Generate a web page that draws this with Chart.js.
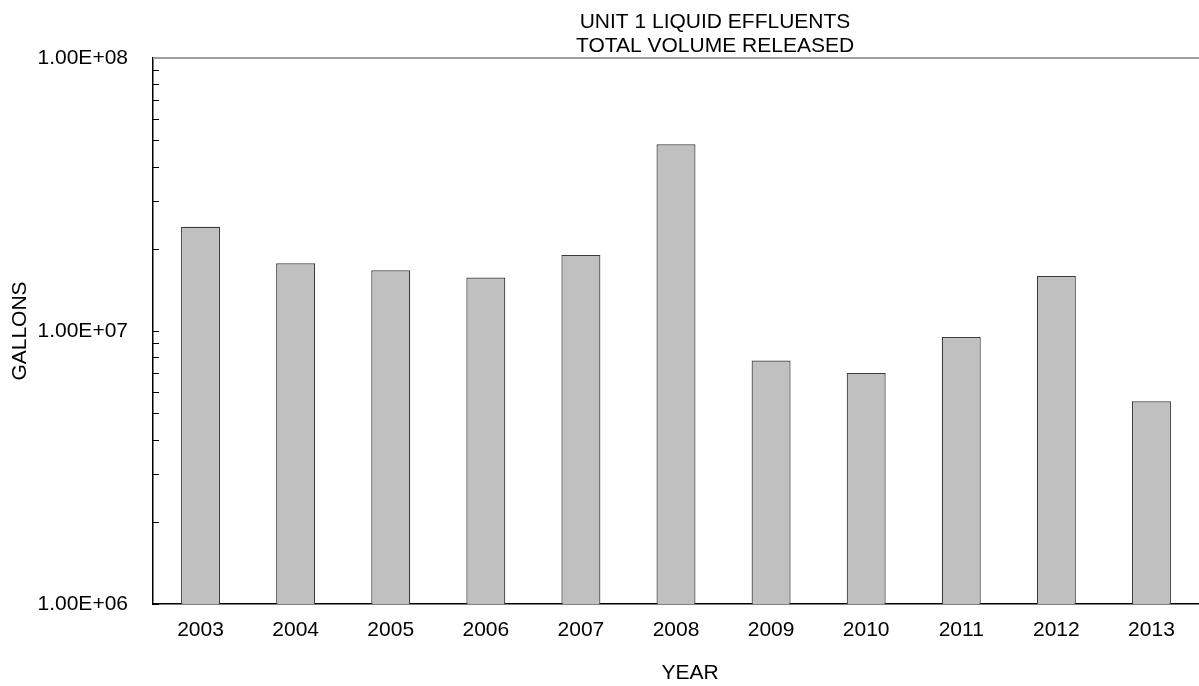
<!DOCTYPE html>
<html>
<head>
<meta charset="utf-8">
<script src="https://cdn.jsdelivr.net/npm/chart.js@4.4.1/dist/chart.umd.min.js"></script>
<style>
    html, body { margin: 0; padding: 0; background: #fff; }
    #wrap { width: 1199px; height: 686px; }
</style>
</head>
<body>
<div id="wrap"><canvas id="volumeChart"></canvas></div>
<script>
// values
const years = ['2003', '2004', '2005', '2006', '2007', '2008', '2009', '2010', '2011', '2012', '2013'];
const gallons = [2.41e7, 1.77e7, 1.67e7, 1.57e7, 1.90e7, 4.83e7, 7.79e6, 7.02e6, 9.51e6, 1.59e7, 5.53e6];
const yTickValues = [1e6, 1e7, 1e8];
const titleLines = ['UNIT 1 LIQUID EFFLUENTS', 'TOTAL VOLUME RELEASED'];
const xTitle = 'YEAR';
const yTitle = 'GALLONS';

const FONT = '"Liberation Sans", Arial, Helvetica, sans-serif';

function sciLabel(v) {
    const exp = Math.round(Math.log10(v));
    const mant = (v / Math.pow(10, exp)).toFixed(2);
    const sign = exp < 0 ? '-' : '+';
    return mant + 'E' + sign + String(Math.abs(exp)).padStart(2, '0');
}

// frame top line, inward log ticks, title and x title
const decorPlugin = {
    id: 'decor',
    afterDraw(chart) {
        const { ctx, chartArea: area, scales: { y } } = chart;
        ctx.save();

        ctx.strokeStyle = '#a0a0a0';
        ctx.lineWidth = 2;
        ctx.beginPath();
        ctx.moveTo(area.left, area.top);
        ctx.lineTo(area.right, area.top);
        ctx.stroke();

        ctx.strokeStyle = '#000';
        ctx.lineWidth = 1;
        const lo = Math.log10(y.min), hi = Math.log10(y.max);
        ctx.beginPath();
        for (let e = lo; e < hi; e++) {
            for (let m = 1; m < 10; m++) {
                const py = Math.round(y.getPixelForValue(m * Math.pow(10, e))) + 0.5;
                ctx.moveTo(area.left, py);
                ctx.lineTo(area.left + 6, py);
            }
        }
        ctx.stroke();

        ctx.fillStyle = '#000';
        ctx.font = '21px ' + FONT;
        ctx.textAlign = 'center';
        ctx.textBaseline = 'alphabetic';
        const cx = (area.left + area.right) / 2;
        titleLines.forEach((t, i) => ctx.fillText(t, cx + 39, 28 + i * 24));
        ctx.fillText(xTitle, cx + 14, chart.height - 7);
        ctx.restore();
    }
};

const volumeChart = new Chart(document.getElementById('volumeChart'), {
    type: 'bar',
    data: {
        labels: years,
        datasets: [{
            data: gallons,
            backgroundColor: '#c0c0c0',
            borderColor: '#3a3a3a',
            borderWidth: 1.2,
            barPercentage: 0.41,
            categoryPercentage: 1.0
        }]
    },
    options: {
        responsive: true,
        maintainAspectRatio: false,
        animation: false,
        layout: { padding: { top: 58, right: 0, bottom: 0, left: 0 } },
        plugins: {
            legend: { display: false },
            title: { display: false },
            tooltip: { enabled: false }
        },
        scales: {
            x: {
                grid: { drawOnChartArea: false, drawTicks: false },
                border: { display: true, color: '#000', width: 1.5 },
                ticks: {
                    color: '#000',
                    font: { family: FONT, size: 21 },
                    padding: 14,
                    maxRotation: 0
                },
                afterFit: (scale) => { scale.height = 82; }
            },
            y: {
                type: 'logarithmic',
                min: 1e6,
                max: 1e8,
                grid: { drawOnChartArea: false, drawTicks: false },
                border: { display: true, color: '#000', width: 1.5 },
                afterBuildTicks: (scale) => {
                    scale.ticks = yTickValues.map(v => ({ value: v }));
                },
                ticks: {
                    color: '#000',
                    font: { family: FONT, size: 21 },
                    padding: 25,
                    autoSkip: false,
                    callback: (v) => sciLabel(v)
                },
                title: {
                    display: true,
                    text: yTitle,
                    color: '#000',
                    font: { family: FONT, size: 21 },
                    padding: { top: 8, bottom: 0 }
                },
                afterFit: (scale) => { scale.width = 153; }
            }
        }
    },
    plugins: [decorPlugin]
});
</script>
</body>
</html>
